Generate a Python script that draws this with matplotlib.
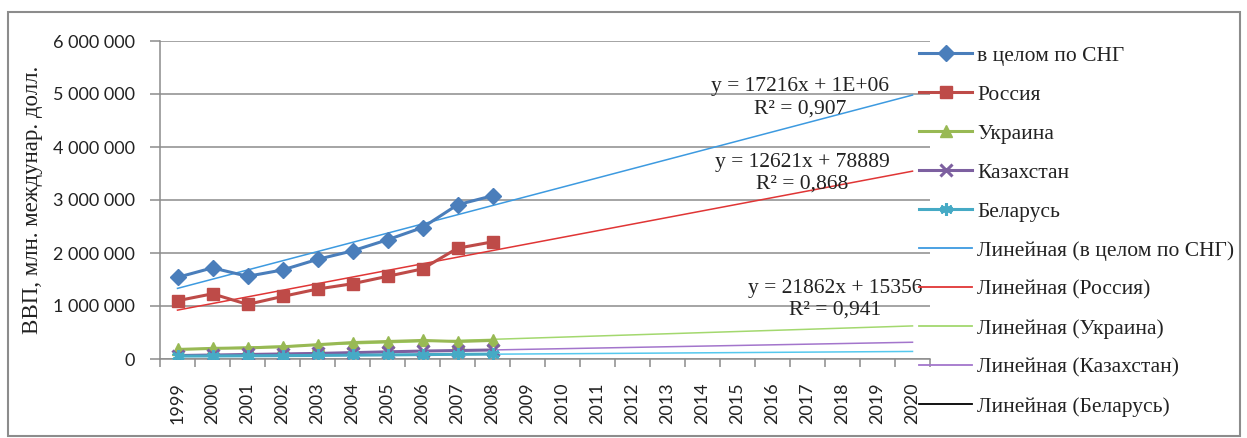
import numpy as np
import matplotlib
matplotlib.use('Agg')
import matplotlib.pyplot as plt
from matplotlib.lines import Line2D
from matplotlib.patches import Rectangle
from matplotlib.ticker import FuncFormatter

plt.rcParams['font.family'] = ['Liberation Serif', 'DejaVu Serif']

# Years on the category axis (data only up to 2008, trends to 2020)
years = list(range(1999, 2021))
data_years = list(range(1999, 2009))

# GDP, mln international dollars
cis = [1540000, 1720000, 1560000, 1680000, 1880000, 2040000, 2250000, 2480000, 2910000, 3080000]
russia = [1100000, 1230000, 1030000, 1180000, 1320000, 1420000, 1560000, 1700000, 2090000, 2210000]
ukraine = [180000, 200000, 210000, 230000, 270000, 310000, 330000, 350000, 330000, 350000]
kazakhstan = [65000, 75000, 85000, 95000, 105000, 120000, 135000, 150000, 160000, 170000]
belarus = [55000, 57000, 60000, 63000, 67000, 72000, 77000, 83000, 88000, 92000]

series_names = ['в целом по СНГ', 'Россия', 'Украина', 'Казахстан', 'Беларусь']
equations = ['y = 17216x + 1E+06\nR² = 0,907',
             'y = 12621x + 78889\nR² = 0,868',
             'y = 21862x + 15356\nR² = 0,941']

colors = ['#4a7ebb', '#be4b48', '#98b954', '#7d60a0', '#46aac5']
trend_colors = ['#3d9ae0', '#e03535', '#a3d86e', '#a375cc', '#55c8ee']
trend_legend_colors = ['#3d9ae0', '#e03535', '#a3d86e', '#a375cc', '#000000']
markers = ['D', 's', '^', 'x', (6, 2, 0)]
msizes = [8, 8, 8, 8, 9]

TXT = '#222222'
GRID = '#8c8c8c'
FS = 15.5

fig = plt.figure(figsize=(12.47, 4.38), dpi=100)
ax = fig.add_axes([160 / 1247, 1 - 359 / 438, (930 - 160) / 1247, (359 - 41) / 438])

x_all = np.arange(len(years))
x_data = np.arange(len(data_years))
all_series = [cis, russia, ukraine, kazakhstan, belarus]

# trendlines fitted on the 10 data points and extended to 2020
for s, tc in zip(all_series, trend_colors):
    k, b = np.polyfit(x_data, s, 1)
    ax.plot(x_all, k * x_all + b, color=tc, lw=1.1, zorder=2)

for s, c, m, ms in zip(all_series, colors, markers, msizes):
    mew = 2.2 if m == 'x' or isinstance(m, tuple) else 1
    ax.plot(x_data, s, color=c, lw=2.2, marker=m, markersize=ms, mew=mew,
            markeredgecolor=c, markerfacecolor=c, zorder=3)

ax.set_xlim(-0.5, len(years) - 0.5)
ax.set_ylim(0, 6000000)
ax.set_yticks(np.arange(0, 6000001, 1000000))
ax.yaxis.set_major_formatter(FuncFormatter(lambda v, p: f'{int(v):,}'.replace(',', ' ')))
ax.grid(axis='y', color=GRID, lw=1.1)
ax.set_axisbelow(True)

ax.set_xticks(x_all)
ax.set_xticklabels([str(y) for y in years], rotation=90, family='Lato')
for lb in ax.get_yticklabels():
    lb.set_family('Lato')
ax.set_xticks(np.arange(-0.5, len(years) + 0.5, 1), minor=True)
ax.tick_params(axis='x', which='major', length=0, pad=17, labelsize=13, labelcolor=TXT)
ax.tick_params(axis='x', which='minor', length=6, color=GRID, width=1.1)
ax.tick_params(axis='y', length=7, color=GRID, width=1.1, labelsize=13, labelcolor=TXT, pad=11)

for sp in ['top', 'right']:
    ax.spines[sp].set_visible(False)
for sp in ['left', 'bottom']:
    ax.spines[sp].set_color(GRID)
    ax.spines[sp].set_linewidth(1.1)

ax.set_ylabel('ВВП, млн. междунар. долл.', fontsize=16.5, color=TXT)
ax.yaxis.set_label_coords(-0.152, 0.5)

# trend equations
eq_pos = [(17.79, 4.93e6), (17.84, 3.50e6), (18.79, 1.12e6)]
for (ex, ey), eq in zip(eq_pos, equations):
    ax.text(ex, ey, eq, ha='center', va='center', fontsize=FS, color=TXT,
            linespacing=1.2, zorder=5)

handles = []
labels = []
for name, c, m, ms in zip(series_names, colors, markers, msizes):
    mew = 2.2 if m == 'x' or isinstance(m, tuple) else 1
    handles.append(Line2D([], [], color=c, lw=2.2, marker=m, markersize=ms, mew=mew,
                          markeredgecolor=c, markerfacecolor=c))
    labels.append(name)
for name, tc in zip(series_names, trend_legend_colors):
    handles.append(Line2D([], [], color=tc, lw=1.3))
    labels.append('Линейная (' + name + ')')

fig.legend(handles, labels, loc='upper left', bbox_to_anchor=(910 / 1247, 1 - 37 / 438),
           frameon=False, fontsize=FS, handlelength=2.5, handletextpad=0.23,
           labelspacing=0.88, labelcolor=TXT, borderaxespad=0)

fig.patches.append(Rectangle((8 / 1247, 2 / 438), 1232 / 1247, 424 / 438,
                             transform=fig.transFigure, fill=False,
                             edgecolor=GRID, lw=1.5))

fig.savefig('out.png', dpi=100)
